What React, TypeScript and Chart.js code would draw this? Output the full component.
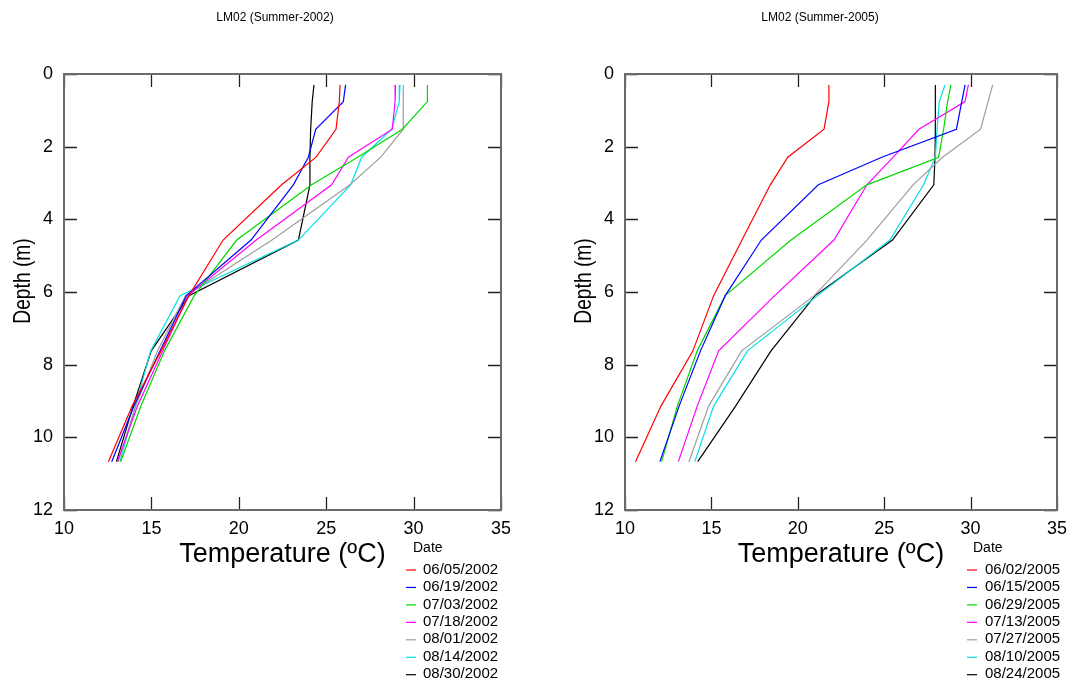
import React, { useEffect, useRef } from "react";
import { Chart, registerables } from "chart.js";

Chart.register(...registerables);

// ---- data ----
const depths = [0.3, 0.76, 1.52, 2.29, 3.05, 4.57, 6.1, 7.62, 9.14, 10.67];

const dates2002 = ["06/05/2002", "06/19/2002", "07/03/2002", "07/18/2002", "08/01/2002", "08/14/2002", "08/30/2002"];
const dates2005 = ["06/02/2005", "06/15/2005", "06/29/2005", "07/13/2005", "07/27/2005", "08/10/2005", "08/24/2005"];

const t20020605 = [25.79, 25.75, 25.56, 24.42, 22.45, 19.1, 17.15, 15.55, 13.9, 12.54];
const t20020619 = [26.11, 25.98, 24.4, 23.98, 23.12, 20.7, 17.0, 15.5, 14.0, 12.73];
const t20020703 = [30.79, 30.79, 29.36, 26.8, 24.17, 19.88, 17.45, 15.75, 14.4, 13.24];
const t20020718 = [28.97, 28.94, 28.78, 26.27, 25.31, 21.0, 17.1, 15.65, 14.2, 13.05];
const t20020801 = [29.41, 29.41, 29.41, 28.12, 26.36, 21.9, 16.95, 15.35, 14.1, 13.11];
const t20020814 = [29.22, 29.18, 28.75, 27.03, 26.4, 23.41, 16.64, 14.96, 14.08, 13.2];
const t20020830 = [24.3, 24.2, 24.11, 24.07, 24.07, 23.41, 17.15, 14.99, 13.95, 13.0];

const t20050602 = [21.8, 21.8, 21.52, 19.42, 18.41, 16.77, 15.13, 13.93, 12.08, 10.61];
const t20050615 = [29.68, 29.49, 29.18, 24.86, 21.19, 17.89, 15.8, 14.37, 13.13, 12.02];
const t20050629 = [28.86, 28.67, 28.44, 28.15, 24.0, 19.61, 15.8, 14.18, 13.03, 12.12];
const t20050713 = [29.87, 29.68, 27.01, 25.52, 24.0, 22.09, 18.66, 15.42, 14.18, 13.09];
const t20050727 = [31.28, 31.01, 30.58, 28.38, 26.67, 24.0, 20.95, 16.75, 14.84, 13.7];
const t20050810 = [28.52, 28.19, 28.06, 27.96, 27.28, 25.33, 21.14, 17.09, 15.13, 14.04];
const t20050824 = [27.96, 27.96, 27.96, 27.94, 27.87, 25.48, 21.0, 18.45, 16.4, 14.21];

const series2002 = [t20020605, t20020619, t20020703, t20020718, t20020801, t20020814, t20020830];
const series2005 = [t20050602, t20050615, t20050629, t20050713, t20050727, t20050810, t20050824];

const lineColors = ["#ff0000", "#0000ff", "#00d800", "#ff00ff", "#9e9e9e", "#00e0e8", "#000000"];

const xMin = 10;
const xMax = 35;
const xStep = 5;
const yMin = 0;
const yMax = 12;
const yStep = 2;

const FONT = '"Liberation Sans", Arial, Helvetica, sans-serif';

const decorPlugin = {
  id: "decor",
  afterDraw(chart: any, _args: any, o: any) {
    const ctx: CanvasRenderingContext2D = chart.ctx;
    const { left, right, top, bottom } = chart.chartArea;
    const xs = chart.scales.x;
    const ys = chart.scales.y;
    ctx.save();
    // inner ticks on all four sides
    ctx.strokeStyle = "#222";
    ctx.lineWidth = 1.3;
    const tl = 13;
    ctx.beginPath();
    for (const t of xs.ticks) {
      const px = Math.round(xs.getPixelForValue(t.value)) + 0.5;
      ctx.moveTo(px, bottom);
      ctx.lineTo(px, bottom - tl);
      ctx.moveTo(px, top);
      ctx.lineTo(px, top + tl);
    }
    for (const t of ys.ticks) {
      const py = Math.round(ys.getPixelForValue(t.value)) + 0.5;
      ctx.moveTo(left, py);
      ctx.lineTo(left + tl, py);
      ctx.moveTo(right, py);
      ctx.lineTo(right - tl, py);
    }
    ctx.stroke();
    // frame
    ctx.strokeStyle = "#6a6a6a";
    ctx.lineWidth = 2;
    ctx.strokeRect(left, top, right - left, bottom - top);

    ctx.fillStyle = "#000";
    // title
    ctx.font = `12px ${FONT}`;
    ctx.textAlign = "center";
    ctx.textBaseline = "middle";
    ctx.fillText(o.title, o.titleX, o.titleY);
    // x axis title
    ctx.font = `27px ${FONT}`;
    ctx.textAlign = "center";
    ctx.textBaseline = "alphabetic";
    ctx.fillText(o.xTitle, (left + right) / 2, o.xTitleY);
    // y axis title (slightly condensed along the text)
    ctx.save();
    ctx.translate(o.yTitleX, o.yTitleY);
    ctx.rotate(-Math.PI / 2);
    ctx.scale(0.8, 1);
    ctx.font = `24px ${FONT}`;
    ctx.textAlign = "center";
    ctx.textBaseline = "middle";
    ctx.fillText(o.yTitle, 0, 0);
    ctx.restore();
    // legend
    ctx.font = `14px ${FONT}`;
    ctx.textAlign = "left";
    ctx.textBaseline = "middle";
    ctx.fillText(o.legendTitle, o.legTitleX, o.legTitleY);
    ctx.font = `15px ${FONT}`;
    chart.data.datasets.forEach((ds: any, i: number) => {
      const y = o.legRowY + i * o.legRowGap;
      ctx.strokeStyle = ds.borderColor;
      ctx.lineWidth = 1.2;
      ctx.beginPath();
      ctx.moveTo(o.legLineX, y + 0.5);
      ctx.lineTo(o.legLineX + 10, y + 0.5);
      ctx.stroke();
      ctx.fillStyle = "#000";
      ctx.fillText(ds.label, o.legTextX, y);
    });
    ctx.restore();
  },
};

type PanelProps = {
  title: string;
  labels: string[];
  series: number[][];
  canvasLeft: number;
  canvasWidth: number;
  plotLeft: number;
  plotRight: number;
  titleX: number;
  yTitleX: number;
  legLineX: number;
  legTextX: number;
  legTitleX: number;
};

function Panel(p: PanelProps) {
  const ref = useRef<HTMLCanvasElement>(null);
  useEffect(() => {
    if (!ref.current) return;
    const H = 681;
    const plotTop = 74;
    const plotBottom = 510;
    const datasets = p.series.map((vals, i) => ({
      label: p.labels[i],
      data: vals.map((v, j) => ({ x: v, y: depths[j] })),
      borderColor: lineColors[i],
      backgroundColor: lineColors[i],
      borderWidth: 1.2,
      showLine: true,
      pointRadius: 0,
      pointHoverRadius: 0,
      tension: 0,
      fill: false,
    }));
    const chart = new Chart(ref.current, {
      type: "scatter",
      data: { datasets },
      plugins: [decorPlugin],
      options: {
        animation: false,
        responsive: false,
        maintainAspectRatio: false,
        events: [],
        layout: {
          padding: { left: 0, top: plotTop, right: p.canvasWidth - p.plotRight, bottom: 0 },
        },
        plugins: {
          legend: { display: false },
          tooltip: { enabled: false },
          title: { display: false },
          decor: {
            title: p.title,
            titleX: p.titleX - p.canvasLeft,
            titleY: 18,
            xTitle: "Temperature (ºC)",
            xTitleY: 562,
            yTitle: "Depth (m)",
            yTitleX: p.yTitleX - p.canvasLeft,
            yTitleY: 281,
            legendTitle: "Date",
            legTitleX: p.legTitleX - p.canvasLeft,
            legTitleY: 548,
            legLineX: p.legLineX - p.canvasLeft,
            legTextX: p.legTextX - p.canvasLeft,
            legRowY: 569.5,
            legRowGap: 17.45,
          },
        } as any,
        scales: {
          x: {
            type: "linear",
            min: xMin,
            max: xMax,
            grid: { display: false, drawTicks: false },
            border: { display: false },
            ticks: {
              stepSize: xStep,
              padding: 8,
              color: "#000",
              font: { family: FONT, size: 18 },
              maxRotation: 0,
            },
            afterFit: (s: any) => {
              s.height = H - plotBottom;
            },
          },
          y: {
            type: "linear",
            reverse: true,
            min: yMin,
            max: yMax,
            grid: { display: false, drawTicks: false },
            border: { display: false },
            ticks: {
              stepSize: yStep,
              padding: 11,
              color: "#000",
              font: { family: FONT, size: 18 },
            },
            afterFit: (s: any) => {
              s.width = p.plotLeft - p.canvasLeft;
            },
          },
        },
      } as any,
    });
    return () => chart.destroy();
  }, []);
  return (
    <canvas
      ref={ref}
      width={p.canvasWidth}
      height={681}
      style={{ position: "absolute", left: p.canvasLeft, top: 0, width: p.canvasWidth, height: 681 }}
    />
  );
}

export default function App() {
  return (
    <div style={{ position: "absolute", left: 0, top: 0, width: 1075, height: 681, background: "#fff", overflow: "hidden" }}>
      <Panel
        title="LM02 (Summer-2002)"
        labels={dates2002}
        series={series2002}
        canvasLeft={0}
        canvasWidth={540}
        plotLeft={64}
        plotRight={501}
        titleX={275}
        yTitleX={23}
        legLineX={406}
        legTextX={423}
        legTitleX={413}
      />
      <Panel
        title="LM02 (Summer-2005)"
        labels={dates2005}
        series={series2005}
        canvasLeft={540}
        canvasWidth={535}
        plotLeft={625}
        plotRight={1062}
        titleX={820}
        yTitleX={584}
        legLineX={967}
        legTextX={985}
        legTitleX={973}
      />
    </div>
  );
}
